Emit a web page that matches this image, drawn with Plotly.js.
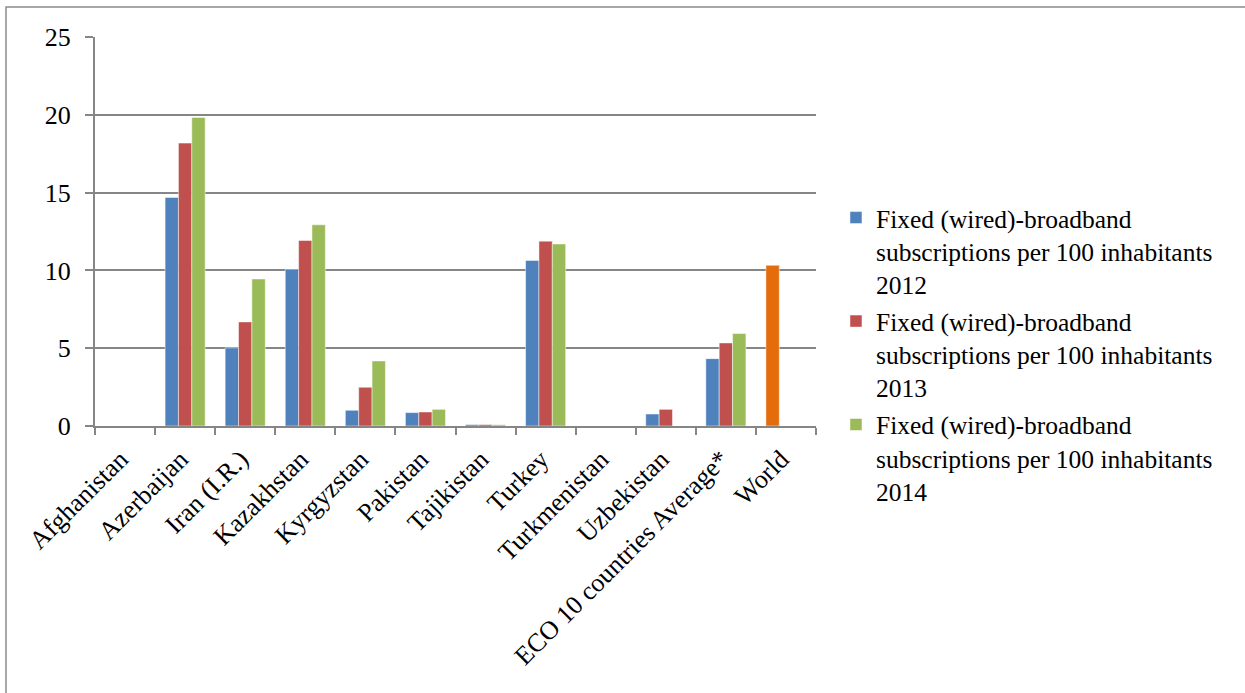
<!DOCTYPE html>
<html>
<head>
<meta charset="utf-8">
<script src="https://cdn.plot.ly/plotly-3.0.1.min.js"></script>
<style>html,body{margin:0;padding:0;background:#fff;}#chart{width:1245px;height:693px;}</style>
</head>
<body>
<div id="chart"></div>
<script>
const categories = ["Afghanistan","Azerbaijan","Iran (I.R.)","Kazakhstan","Kyrgyzstan","Pakistan","Tajikistan","Turkey","Turkmenistan","Uzbekistan","ECO 10 countries Average*","World"];
const v2012 = [null,14.69,5.02,10.08,1.01,0.86,0.09,10.64,null,0.77,4.33,10.33];
const v2013 = [null,18.18,6.69,11.92,2.49,0.90,0.09,11.88,null,1.07,5.34,null];
const v2014 = [null,19.83,9.45,12.93,4.18,1.07,0.08,11.70,null,null,5.94,null];
const seriesNames = ["Fixed (wired)-broadband<br>subscriptions per 100 inhabitants<br>2012",
                     "Fixed (wired)-broadband<br>subscriptions per 100 inhabitants<br>2013",
                     "Fixed (wired)-broadband<br>subscriptions per 100 inhabitants<br>2014"];
const yTicks = [0,5,10,15,20,25];

const blue = "#4F81BD", red = "#C0504D", green = "#9BBB59", orange = "#E46C0A";
const colors2012 = categories.map(c => c === "World" ? orange : blue);

const lineStyle = {color: "rgba(255,255,255,0.6)", width: 0.8};
const traces = [
  {type:"bar", x:categories, y:v2012, name:seriesNames[0], legendgroup:"a", marker:{color:colors2012, line:lineStyle}},
  {type:"bar", x:categories, y:v2013, name:seriesNames[1], legendgroup:"b", marker:{color:red, line:lineStyle}},
  {type:"bar", x:categories, y:v2014, name:seriesNames[2], legendgroup:"c", marker:{color:green, line:lineStyle}}
];

const fam = "Liberation Serif";
const layout = {
  width:1245, height:693,
  margin:{l:95, r:429, t:37, b:267},
  paper_bgcolor:"#fff", plot_bgcolor:"#fff",
  barmode:"group", bargap:0.333, bargroupgap:0,
  showlegend:true,
  font:{family:fam, size:22, color:"#000"},
  xaxis:{
    type:"category", tickangle:-45, tickfont:{family:fam, size:26, color:"#000"},
    tickvals:categories, ticktext:categories.map(c => c + "\u00a0"),
    showline:true, linecolor:"#868686", linewidth:2,
    ticks:"outside", tickson:"boundaries", ticklen:7, tickcolor:"#868686", tickwidth:2,
    ticklabelstandoff:1,
    showgrid:false, automargin:false
  },
  yaxis:{
    range:[0,25], tickvals:yTicks, ticktext:yTicks.map(String),
    tickfont:{family:fam, size:26, color:"#000"},
    showline:true, linecolor:"#868686", linewidth:2,
    ticks:"outside", ticklen:8, tickcolor:"#868686", tickwidth:2,
    ticklabelstandoff:9,
    showgrid:true, gridcolor:"#868686", gridwidth:2,
    zeroline:false, automargin:false
  },
  legend:{
    x:1.0277, y:0.595, xanchor:"left", yanchor:"top",
    font:{family:fam, size:25.5, color:"#000"},
    valign:"top",
    tracegroupgap:1, itemwidth:30,
    bgcolor:"rgba(0,0,0,0)"
  },
  shapes:[{type:"rect", xref:"paper", yref:"paper", layer:"below",
           x0:-89/721, x1:1.6, y0:-1.2, y1:1+30/389,
           line:{color:"#8c8c8c", width:1.5}}]
};
Plotly.newPlot("chart", traces, layout, {staticPlot:true});
</script>
</body>
</html>
